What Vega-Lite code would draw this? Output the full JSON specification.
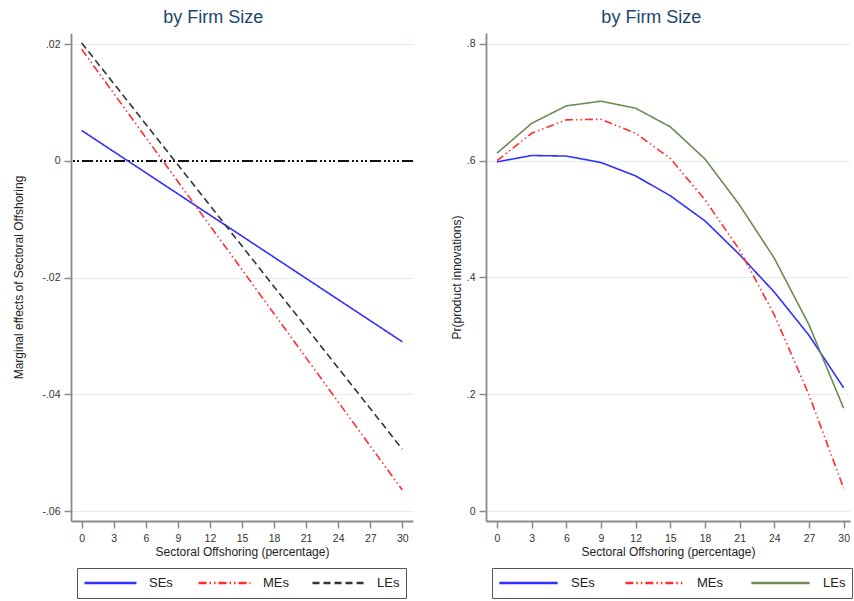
{
  "$schema": "https://vega.github.io/schema/vega-lite/v6.json",
  "background": "white",
  "padding": {"left": 12, "top": 9, "right": 0, "bottom": 0},
  "config": {
    "font": "Liberation Sans",
    "view": {"stroke": null},
    "axis": {"domainColor": "#8a8a8a", "domainWidth": 1.8, "tickColor": "#8a8a8a", "tickWidth": 1.5, "tickSize": 7, "labelFontSize": 10.5, "labelColor": "#333333", "titleFontSize": 12, "titleFontWeight": "normal", "titleColor": "#222222", "gridColor": "#e5eeee", "gridWidth": 1},
    "axisX": {"grid": false, "labelPadding": 5, "titlePadding": 3},
    "axisY": {"grid": true, "labelPadding": 4},
    "title": {"fontSize": 18, "font": "Liberation Sans", "fontWeight": "normal", "color": "#1a476f", "anchor": "middle", "frame": "bounds", "offset": 6},
    "concat": {"spacing": 36}
  },
  "resolve": {"scale": {"x": "independent", "y": "independent", "color": "independent", "strokeDash": "independent"}, "legend": {"color": "independent", "strokeDash": "independent"}},
  "hconcat": [
    {
      "width": 342,
      "height": 488,
      "title": {"text": "by Firm Size"},
      "data": {"values": [
        {"x": 0, "size": "SEs", "y": 0.0052}, {"x": 3, "size": "SEs", "y": 0.00158}, {"x": 6, "size": "SEs", "y": -0.00204}, {"x": 9, "size": "SEs", "y": -0.00566}, {"x": 12, "size": "SEs", "y": -0.00928}, {"x": 15, "size": "SEs", "y": -0.0129}, {"x": 18, "size": "SEs", "y": -0.01652}, {"x": 21, "size": "SEs", "y": -0.02014}, {"x": 24, "size": "SEs", "y": -0.02376}, {"x": 27, "size": "SEs", "y": -0.02738}, {"x": 30, "size": "SEs", "y": -0.031},
        {"x": 0, "size": "MEs", "y": 0.0191}, {"x": 3, "size": "MEs", "y": 0.01155}, {"x": 6, "size": "MEs", "y": 0.004}, {"x": 9, "size": "MEs", "y": -0.00355}, {"x": 12, "size": "MEs", "y": -0.0111}, {"x": 15, "size": "MEs", "y": -0.01865}, {"x": 18, "size": "MEs", "y": -0.0262}, {"x": 21, "size": "MEs", "y": -0.03375}, {"x": 24, "size": "MEs", "y": -0.0413}, {"x": 27, "size": "MEs", "y": -0.04885}, {"x": 30, "size": "MEs", "y": -0.0564},
        {"x": 0, "size": "LEs", "y": 0.0202}, {"x": 3, "size": "LEs", "y": 0.01324}, {"x": 6, "size": "LEs", "y": 0.00628}, {"x": 9, "size": "LEs", "y": -0.00068}, {"x": 12, "size": "LEs", "y": -0.00764}, {"x": 15, "size": "LEs", "y": -0.0146}, {"x": 18, "size": "LEs", "y": -0.02156}, {"x": 21, "size": "LEs", "y": -0.02852}, {"x": 24, "size": "LEs", "y": -0.03548}, {"x": 27, "size": "LEs", "y": -0.04244}, {"x": 30, "size": "LEs", "y": -0.0494}
      ]},
      "layer": [
        {
          "mark": {"type": "rule", "color": "#111111", "strokeWidth": 1, "strokeDash": [11, 3, 1.5, 3, 1.5, 3, 1.5, 3, 1.5, 3]},
          "encoding": {"y": {"datum": 0, "type": "quantitative"}}
        },
        {
          "mark": {"type": "line", "strokeWidth": 1.6},
          "encoding": {
            "x": {"field": "x", "type": "quantitative", "scale": {"domain": [-1, 31], "nice": false, "zero": false}, "axis": {"values": [0, 3, 6, 9, 12, 15, 18, 21, 24, 27, 30], "title": "Sectoral Offshoring (percentage)"}},
            "y": {"field": "y", "type": "quantitative", "scale": {"domain": [-0.0617, 0.0219], "nice": false, "zero": false}, "axis": {"values": [0.02, 0, -0.02, -0.04, -0.06], "labelExpr": "datum.value == 0 ? '0' : (datum.value < 0 ? '-' : '') + replace(format(abs(datum.value), '.2f'), '0.', '.')", "title": "Marginal effects of Sectoral Offshoring", "titlePadding": 16}},
            "color": {"field": "size", "type": "nominal", "scale": {"domain": ["SEs", "MEs", "LEs"], "range": ["#3030ff", "#ff2e2e", "#333333"]},
              "legend": {"title": null, "orient": "none", "legendX": 6, "legendY": 535, "direction": "horizontal", "columns": 3, "symbolType": "stroke", "symbolSize": 2700, "symbolStrokeWidth": 2.5, "labelFontSize": 13, "labelColor": "#222222", "strokeColor": "#555555", "padding": 6, "columnPadding": 22, "gridAlign": "all", "labelOffset": 11, "clipHeight": 18}},
            "strokeDash": {"field": "size", "type": "nominal", "scale": {"domain": ["SEs", "MEs", "LEs"], "range": [[1, 0], [8, 3, 1.5, 3, 1.5, 3], [7, 4]]},
              "legend": {"title": null, "orient": "none", "legendX": 6, "legendY": 535, "direction": "horizontal", "columns": 3, "symbolType": "stroke", "symbolSize": 2700, "symbolStrokeWidth": 2.5, "labelFontSize": 13, "labelColor": "#222222", "strokeColor": "#555555", "padding": 6, "columnPadding": 22, "gridAlign": "all", "labelOffset": 11, "clipHeight": 18}}
          }
        }
      ]
    },
    {
      "width": 364,
      "height": 488,
      "title": {"text": "by Firm Size"},
      "data": {"values": [
        {"x": 0, "size": "SEs", "y": 0.598}, {"x": 3, "size": "SEs", "y": 0.609}, {"x": 6, "size": "SEs", "y": 0.608}, {"x": 9, "size": "SEs", "y": 0.597}, {"x": 12, "size": "SEs", "y": 0.574}, {"x": 15, "size": "SEs", "y": 0.54}, {"x": 18, "size": "SEs", "y": 0.497}, {"x": 21, "size": "SEs", "y": 0.439}, {"x": 24, "size": "SEs", "y": 0.375}, {"x": 27, "size": "SEs", "y": 0.301}, {"x": 30, "size": "SEs", "y": 0.211},
        {"x": 0, "size": "MEs", "y": 0.6}, {"x": 3, "size": "MEs", "y": 0.647}, {"x": 6, "size": "MEs", "y": 0.67}, {"x": 9, "size": "MEs", "y": 0.671}, {"x": 12, "size": "MEs", "y": 0.647}, {"x": 15, "size": "MEs", "y": 0.604}, {"x": 18, "size": "MEs", "y": 0.533}, {"x": 21, "size": "MEs", "y": 0.447}, {"x": 24, "size": "MEs", "y": 0.336}, {"x": 27, "size": "MEs", "y": 0.199}, {"x": 30, "size": "MEs", "y": 0.039},
        {"x": 0, "size": "LEs", "y": 0.613}, {"x": 3, "size": "LEs", "y": 0.664}, {"x": 6, "size": "LEs", "y": 0.694}, {"x": 9, "size": "LEs", "y": 0.702}, {"x": 12, "size": "LEs", "y": 0.69}, {"x": 15, "size": "LEs", "y": 0.658}, {"x": 18, "size": "LEs", "y": 0.603}, {"x": 21, "size": "LEs", "y": 0.524}, {"x": 24, "size": "LEs", "y": 0.433}, {"x": 27, "size": "LEs", "y": 0.319}, {"x": 30, "size": "LEs", "y": 0.176}
      ]},
      "mark": {"type": "line", "strokeWidth": 1.6},
      "encoding": {
        "x": {"field": "x", "type": "quantitative", "scale": {"domain": [-0.95, 30.55], "nice": false, "zero": false}, "axis": {"values": [0, 3, 6, 9, 12, 15, 18, 21, 24, 27, 30], "title": "Sectoral Offshoring (percentage)"}},
        "y": {"field": "y", "type": "quantitative", "scale": {"domain": [-0.0171, 0.8188], "nice": false, "zero": false}, "axis": {"values": [0, 0.2, 0.4, 0.6, 0.8], "labelExpr": "datum.value == 0 ? '0' : replace(format(datum.value, '.1f'), '0.', '.')", "title": "Pr(product innovations)", "titlePadding": 3}},
        "color": {"field": "size", "type": "nominal", "scale": {"domain": ["SEs", "MEs", "LEs"], "range": ["#3030ff", "#ff2e2e", "#6b8c52"]},
          "legend": {"title": null, "orient": "none", "legendX": 6, "legendY": 535, "direction": "horizontal", "columns": 3, "symbolType": "stroke", "symbolSize": 3400, "symbolStrokeWidth": 2.5, "labelFontSize": 13, "labelColor": "#222222", "strokeColor": "#555555", "padding": 6, "columnPadding": 27, "gridAlign": "all", "labelOffset": 12, "clipHeight": 18}},
        "strokeDash": {"field": "size", "type": "nominal", "scale": {"domain": ["SEs", "MEs", "LEs"], "range": [[1, 0], [8, 3, 1.5, 3, 1.5, 3], [1, 0]]},
          "legend": {"title": null, "orient": "none", "legendX": 6, "legendY": 535, "direction": "horizontal", "columns": 3, "symbolType": "stroke", "symbolSize": 3400, "symbolStrokeWidth": 2.5, "labelFontSize": 13, "labelColor": "#222222", "strokeColor": "#555555", "padding": 6, "columnPadding": 27, "gridAlign": "all", "labelOffset": 12, "clipHeight": 18}}
      }
    }
  ]
}
